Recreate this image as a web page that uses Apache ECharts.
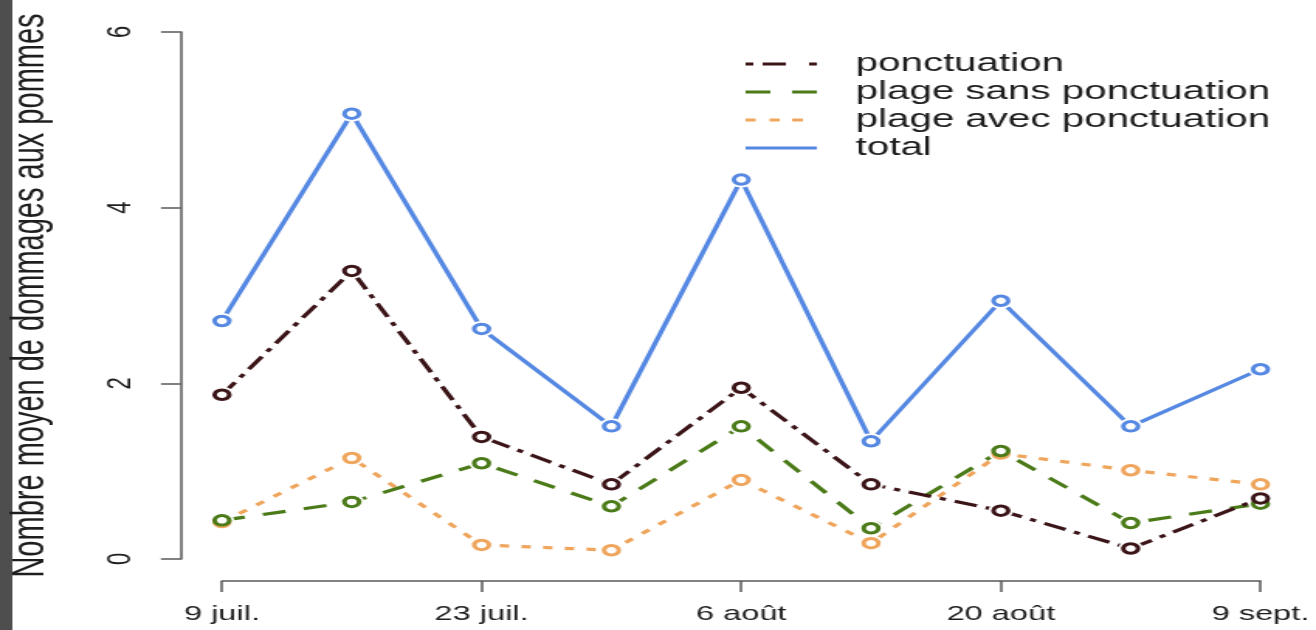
<!DOCTYPE html>
<html>
<head>
<meta charset="utf-8">
<script src="https://cdn.jsdelivr.net/npm/echarts@6/dist/echarts.min.js"></script>
<style>
  html, body { margin: 0; padding: 0; background: #fff; overflow: hidden; }
  /* the plot is laid out at its native width and widened horizontally */
  #chart { width: 849px; height: 630px; transform: scaleX(1.55); transform-origin: 0 0; }
</style>
</head>
<body>
<div id="chart"></div>
<script>
// sampling rounds (weekly), positions along the date axis
const semaines = [0, 1, 2, 3, 4, 5, 6, 7, 8];
const etiquettesDates = ['9 juil.', '23 juil.', '6 août', '20 août', '9 sept.'];

const ponctuation        = [1.87, 3.28, 1.39, 0.85, 1.95, 0.85, 0.55, 0.12, 0.69];
const plageSansPonct     = [0.44, 0.65, 1.09, 0.60, 1.51, 0.35, 1.23, 0.41, 0.63];
const plageAvecPonct     = [0.42, 1.15, 0.16, 0.10, 0.90, 0.18, 1.20, 1.01, 0.85];
const total              = [2.71, 5.07, 2.62, 1.51, 4.32, 1.34, 2.94, 1.51, 2.16];

const FONT = '"Liberation Sans", Arial, Helvetica, sans-serif';
const AXIS_COLOR = '#585858';
const TEXT_COLOR = '#1e1e1e';

const C_PONCT = '#3b1418';
const C_SANS  = '#4b7a18';
const C_AVEC  = '#efa55c';
const C_TOTAL = '#5588e2';

function pts(values) {
  return semaines.map((s, i) => [s, values[i]]);
}

// each group: the connecting line, a white halo that opens a gap round
// each point, then the open circle itself
function groupe(name, values, color, dash, rank) {
  return [
    {
      name: name,
      type: 'line',
      data: pts(values),
      z: 2,
      symbol: 'none',
      lineStyle: { color: color, width: 3.2, type: dash },
      itemStyle: { color: color },
      emphasis: { disabled: true },
      silent: true
    },
    {
      name: name + ' (halo)',
      type: 'scatter',
      data: pts(values),
      z: 3,
      symbol: 'circle',
      symbolSize: 16,
      itemStyle: { color: '#ffffff', opacity: 1 },
      emphasis: { disabled: true },
      silent: true
    },
    {
      name: name + ' (points)',
      type: 'scatter',
      data: pts(values),
      z: 4 + rank,
      symbol: 'circle',
      symbolSize: 9.5,
      itemStyle: { color: '#ffffff', borderColor: color, borderWidth: 3, opacity: 1 },
      emphasis: { disabled: true },
      silent: true
    }
  ];
}

// legend swatches: dash patterns drawn as filled bars, padded to a common box
const PAD = ' M66,0 L66,3 Z';
const icons = {
  ponct: 'path://M0,0h5v3h-5z M11,0h15v3h-15z M41,0h5v3h-5z' + PAD,
  sans:  'path://M0,0h16v3h-16z M30,0h16v3h-16z' + PAD,
  avec:  'path://M0,0h6.5v3h-6.5z M15.5,0h6.5v3h-6.5z M30,0h7v3h-7z' + PAD,
  total: 'path://M0,0h46v3h-46z' + PAD
};

const chart = echarts.init(document.getElementById('chart'), null, { renderer: 'canvas' });

chart.setOption({
  animation: false,
  backgroundColor: '#ffffff',
  textStyle: { fontFamily: FONT },
  graphic: [{
    type: 'rect',
    left: 0, top: 0,
    shape: { width: 8, height: 630 },
    style: { fill: '#4e4e4e' },
    silent: true
  }],
  grid: {
    left: 143.2, right: 35.8, top: 32, bottom: 71,
    containLabel: false,
    outerBoundsMode: 'none'
  },
  legend: {
    orient: 'vertical',
    left: 476,
    top: 46,
    itemWidth: 66,
    itemHeight: 3,
    itemGap: 2,
    selectedMode: false,
    textStyle: { fontSize: 26, color: TEXT_COLOR, fontFamily: FONT },
    data: [
      { name: 'ponctuation', icon: icons.ponct, itemStyle: { color: C_PONCT, borderWidth: 0 } },
      { name: 'plage sans ponctuation', icon: icons.sans, itemStyle: { color: C_SANS, borderWidth: 0 } },
      { name: 'plage avec ponctuation', icon: icons.avec, itemStyle: { color: C_AVEC, borderWidth: 0 } },
      { name: 'total', icon: icons.total, itemStyle: { color: C_TOTAL, borderWidth: 0 } }
    ]
  },
  xAxis: {
    type: 'value',
    min: 0, max: 8, interval: 2,
    offset: 22,
    axisLine: { show: true, onZero: false, lineStyle: { color: AXIS_COLOR, width: 1.5 } },
    axisTick: { show: true, length: 11, lineStyle: { color: AXIS_COLOR, width: 1.5 } },
    splitLine: { show: false },
    axisLabel: {
      formatter: v => etiquettesDates[Math.round(v / 2)] || '',
      fontSize: 21, margin: 23, color: TEXT_COLOR, fontFamily: FONT
    }
  },
  yAxis: {
    type: 'value',
    min: 0, max: 6, interval: 2,
    offset: 26.4,
    name: 'Nombre moyen de dommages aux pommes',
    nameLocation: 'middle',
    nameRotate: 90,
    nameGap: 82,
    nameTextStyle: { fontSize: 29, color: TEXT_COLOR, fontFamily: FONT },
    axisLine: { show: true, onZero: false, lineStyle: { color: AXIS_COLOR, width: 1.5 } },
    axisTick: { show: true, length: 13, lineStyle: { color: AXIS_COLOR, width: 1.5 } },
    splitLine: { show: false },
    axisLabel: { rotate: 90, fontSize: 22, margin: 28, color: TEXT_COLOR, fontFamily: FONT }
  },
  series: [].concat(
    groupe('total', total, C_TOTAL, 'solid', 0),
    groupe('plage avec ponctuation', plageAvecPonct, C_AVEC, [6, 8], 1),
    groupe('plage sans ponctuation', plageSansPonct, C_SANS, [15, 12], 2),
    groupe('ponctuation', ponctuation, C_PONCT, [15, 6, 4, 6], 3)
  )
});
</script>
</body>
</html>
